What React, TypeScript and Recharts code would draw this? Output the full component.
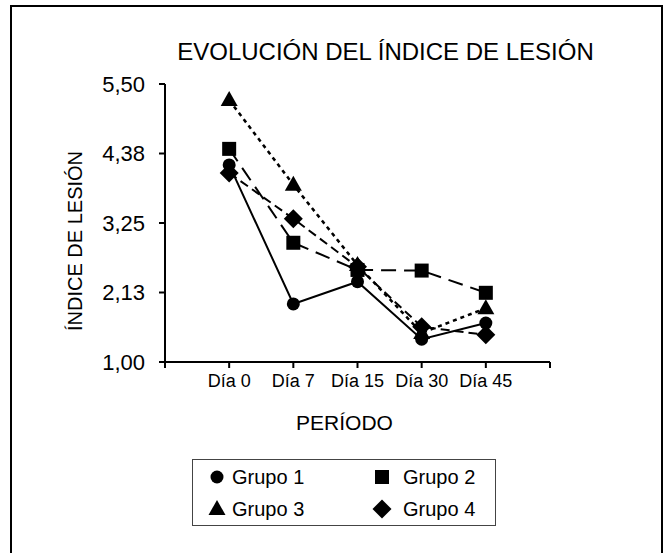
import React from 'react';
import { LineChart, Line, XAxis, YAxis, Legend, Label } from 'recharts';

const categories = ['Día 0', 'Día 7', 'Día 15', 'Día 30', 'Día 45'];
const grupo1 = [4.19, 1.94, 2.3, 1.37, 1.63];
const grupo2 = [4.45, 2.93, 2.49, 2.48, 2.12];
const grupo3 = [5.24, 3.87, 2.57, 1.47, 1.87];
const grupo4 = [4.06, 3.32, 2.54, 1.57, 1.44];
const yTicks = [1, 2.125, 3.25, 4.375, 5.5];
const yTickLabels = ['1,00', '2,13', '3,25', '4,38', '5,50'];
const seriesNames = ['Grupo 1', 'Grupo 2', 'Grupo 3', 'Grupo 4'];

const data = categories.map((c, i) => ({
  x: i + 1,
  cat: c,
  g1: grupo1[i],
  g2: grupo2[i],
  g3: grupo3[i],
  g4: grupo4[i],
}));

const FONT = '"Liberation Sans", Arial, Helvetica, sans-serif';

type Kind = 'circle' | 'square' | 'triangle' | 'diamond';

function shapeEl(kind: Kind, cx: number, cy: number, key?: any) {
  if (kind === 'circle') return <circle key={key} cx={cx} cy={cy} r={6.5} fill="#000" />;
  if (kind === 'square') return <rect key={key} x={cx - 7} y={cy - 7} width={14} height={14} fill="#000" />;
  if (kind === 'triangle')
    return <polygon key={key} points={`${cx},${cy - 9} ${cx - 8.5},${cy + 6} ${cx + 8.5},${cy + 6}`} fill="#000" />;
  return <polygon key={key} points={`${cx},${cy - 9.5} ${cx + 9.5},${cy} ${cx},${cy + 9.5} ${cx - 9.5},${cy}`} fill="#000" />;
}

const makeDot = (kind: Kind) => (props: any) => {
  const { cx, cy, key, index } = props;
  if (cx == null || cy == null) return <g key={key ?? index} />;
  return shapeEl(kind, cx, cy, key ?? `${kind}-${index}`);
};

const kinds: Kind[] = ['circle', 'square', 'triangle', 'diamond'];

const LegendBox = () => {
  const order = [0, 1, 2, 3];
  return (
    <div
      style={{
        width: 304,
        height: 67,
        border: '1.5px solid #444',
        boxSizing: 'border-box',
        display: 'grid',
        gridTemplateColumns: '170px 130px',
        gridTemplateRows: '32px 32px',
        paddingTop: 1,
        fontFamily: FONT,
        fontSize: 20,
        color: '#000',
        background: '#fff',
      }}
    >
      {order.map((i) => (
        <div key={i} style={{ display: 'flex', alignItems: 'center', paddingLeft: i % 2 === 0 ? 13 : 8 }}>
          <svg width={22} height={22} style={{ marginRight: i % 2 === 0 ? 4 : 10 }}>
            {shapeEl(kinds[i], 11, 11)}
          </svg>
          <span>{seriesNames[i]}</span>
        </div>
      ))}
    </div>
  );
};

export default function App() {
  return (
    <div
      style={{
        position: 'absolute',
        left: 0,
        top: 0,
        width: 670,
        height: 553,
        overflow: 'hidden',
        background: '#fff',
        fontFamily: FONT,
      }}
    >
      <div
        style={{
          position: 'absolute',
          left: 10,
          top: 5,
          width: 653,
          height: 580,
          border: '2px solid #000',
          boxSizing: 'border-box',
        }}
      />
      <div
        style={{
          position: 'absolute',
          left: 0,
          top: 39,
          width: 771,
          textAlign: 'center',
          fontSize: 24,
          color: '#000',
          lineHeight: '26px',
          whiteSpace: 'nowrap',
        }}
      >
        EVOLUCIÓN DEL ÍNDICE DE LESIÓN
      </div>
      <div style={{ position: 'absolute', left: 0, top: 0 }}>
        <LineChart
          width={670}
          height={553}
          data={data}
          margin={{ top: 84, right: 120, bottom: 131, left: 60 }}
        >
          <XAxis
            dataKey="x"
            type="number"
            domain={[0, 6]}
            ticks={[0, 1, 2, 3, 4, 5, 6]}
            tickFormatter={(v: number) => categories[v - 1] ?? ''}
            axisLine={{ stroke: '#000', strokeWidth: 2 }}
            tickLine={{ stroke: '#000', strokeWidth: 2 }}
            tickSize={6}
            tickMargin={6}
            tick={{ fill: '#000', fontSize: 18, fontFamily: FONT }}
            interval={0}
            height={60}
          >
            <Label
              content={(p: any) => {
                const vb = p.viewBox;
                return (
                  <text
                    x={vb.x + vb.width / 2 - 13}
                    y={vb.y + 68}
                    textAnchor="middle"
                    fontSize={21}
                    fontFamily={FONT}
                    fill="#000"
                  >
                    PERÍODO
                  </text>
                );
              }}
            />
          </XAxis>
          <YAxis
            type="number"
            domain={[1, 5.5]}
            ticks={yTicks}
            tickFormatter={(v: number) => yTickLabels[yTicks.indexOf(v)] ?? ''}
            axisLine={{ stroke: '#000', strokeWidth: 2 }}
            tickLine={{ stroke: '#000', strokeWidth: 2 }}
            tickSize={6}
            tickMargin={14}
            tick={{ fill: '#000', fontSize: 22, fontFamily: FONT }}
            width={105}
            interval={0}
          >
            <Label
              content={(p: any) => {
                const vb = p.viewBox;
                const x = vb.x + 22;
                const y = vb.y + vb.height / 2 + 18;
                return (
                  <text
                    x={x}
                    y={y}
                    transform={`rotate(-90 ${x} ${y})`}
                    textAnchor="middle"
                    fontSize={20}
                    fontFamily={FONT}
                    fill="#000"
                  >
                    ÍNDICE DE LESIÓN
                  </text>
                );
              }}
            />
          </YAxis>
          <Legend
            layout="horizontal"
            verticalAlign="middle"
            align="center"
            wrapperStyle={{ left: 192, top: 459, width: 304, height: 67 }}
            content={() => <LegendBox />}
          />
          <Line
            dataKey="g1"
            name={seriesNames[0]}
            stroke="#000"
            strokeWidth={2}
            dot={makeDot('circle')}
            isAnimationActive={false}
          />
          <Line
            dataKey="g2"
            name={seriesNames[1]}
            stroke="#000"
            strokeWidth={2}
            strokeDasharray="15 8"
            dot={makeDot('square')}
            isAnimationActive={false}
          />
          <Line
            dataKey="g3"
            name={seriesNames[2]}
            stroke="#000"
            strokeWidth={2.5}
            strokeDasharray="4 4"
            dot={makeDot('triangle')}
            isAnimationActive={false}
          />
          <Line
            dataKey="g4"
            name={seriesNames[3]}
            stroke="#000"
            strokeWidth={2}
            strokeDasharray="9 5"
            dot={makeDot('diamond')}
            isAnimationActive={false}
          />
        </LineChart>
      </div>
    </div>
  );
}
